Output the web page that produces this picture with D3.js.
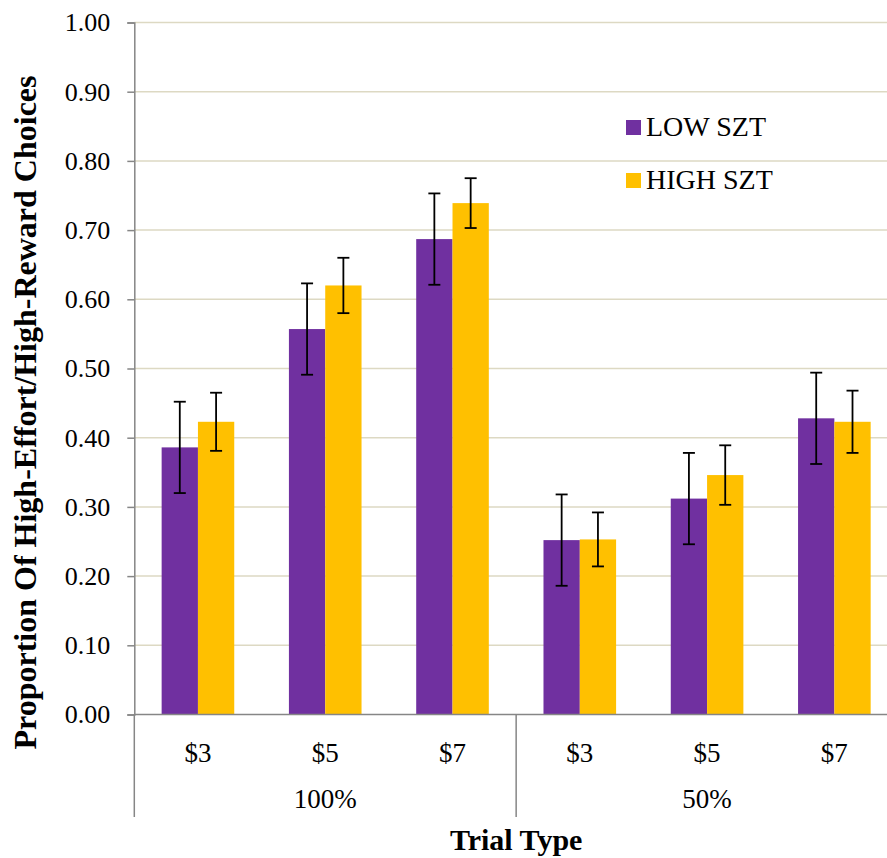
<!DOCTYPE html>
<html>
<head>
<meta charset="utf-8">
<script src="https://cdn.jsdelivr.net/npm/d3@7"></script>
<style>
  html, body { margin: 0; padding: 0; background: #fff; }
  svg { display: block; }
</style>
</head>
<body>
<div id="chart"></div>
<script>
// ---- data ----
const categories = ["$3", "$5", "$7", "$3", "$5", "$7"];
const groups = ["100%", "50%"];
const seriesNames = ["LOW SZT", "HIGH SZT"];
const lowSZT = [0.386, 0.557, 0.687, 0.252, 0.312, 0.428];
const highSZT = [0.423, 0.620, 0.739, 0.253, 0.346, 0.423];
const lowErr = [0.066, 0.066, 0.066, 0.066, 0.066, 0.066];
const highErr = [0.042, 0.040, 0.036, 0.039, 0.043, 0.045];
const yTicks = [0, 0.1, 0.2, 0.3, 0.4, 0.5, 0.6, 0.7, 0.8, 0.9, 1.0];
const colors = ["#7030A0", "#FFC000"];

const W = 887, H = 858;
const pLeft = 134.3, pRight = 898, pTop = 22.5, pBottom = 714.5;
const FONT = "'Liberation Serif', 'Times New Roman', Times, serif";

const svg = d3.select("#chart").append("svg").attr("width", W).attr("height", H);

const y = d3.scaleLinear().domain([0, 1]).range([pBottom, pTop]);
const x = d3.scaleBand().domain(d3.range(categories.length)).range([pLeft, pRight]).padding(0);
const xs = d3.scaleBand().domain([0, 1]).range([0, x.bandwidth()]).paddingInner(0).paddingOuter(0.753);

// gridlines
svg.append("g").selectAll("line").data(yTicks.filter(d => d > 0)).join("line")
  .attr("x1", pLeft).attr("x2", pRight)
  .attr("y1", d => y(d)).attr("y2", d => y(d))
  .attr("stroke", "#DDD9C3").attr("stroke-width", 1.5);

// bars
const rows = categories.map((c, i) => ({ i, vals: [lowSZT[i], highSZT[i]], errs: [lowErr[i], highErr[i]] }));
const bars = svg.append("g");
rows.forEach(r => {
  r.vals.forEach((v, s) => {
    bars.append("rect")
      .attr("x", x(r.i) + xs(s)).attr("width", xs.bandwidth())
      .attr("y", y(v)).attr("height", y(0) - y(v))
      .attr("fill", colors[s]);
  });
});

// error bars
const eb = svg.append("g").attr("stroke", "#000").attr("stroke-width", 1.8);
rows.forEach(r => {
  r.vals.forEach((v, s) => {
    const cx = x(r.i) + xs(s) + xs.bandwidth() / 2;
    const e = r.errs[s];
    eb.append("line").attr("x1", cx).attr("x2", cx).attr("y1", y(v + e)).attr("y2", y(v - e));
    eb.append("line").attr("x1", cx - 6).attr("x2", cx + 6).attr("y1", y(v + e)).attr("y2", y(v + e));
    eb.append("line").attr("x1", cx - 6).attr("x2", cx + 6).attr("y1", y(v - e)).attr("y2", y(v - e));
  });
});

// y axis
const yAxis = d3.axisLeft(y).tickValues(yTicks).tickFormat(d3.format(".2f")).tickSize(7).tickPadding(17);
const yg = svg.append("g").attr("transform", `translate(${pLeft},0)`).call(yAxis);
yg.attr("font-family", FONT).attr("font-size", 26);
yg.select(".domain").attr("stroke", "#868686").attr("stroke-width", 1.5);
yg.selectAll(".tick line").attr("stroke", "#868686").attr("stroke-width", 1.5);
yg.selectAll(".tick text").attr("font-size", 26).attr("fill", "#000")
  .attr("font-family", FONT);

// x axis (categories)
const xAxis = d3.axisBottom(x).tickFormat(i => categories[i]).tickSize(0).tickPadding(28);
const xg = svg.append("g").attr("transform", `translate(0,${pBottom})`).call(xAxis);
xg.attr("font-family", FONT).attr("font-size", 27);
xg.select(".domain").remove();
xg.selectAll(".tick text").attr("font-size", 27).attr("fill", "#000")
  .attr("font-family", FONT);

// axis line + group separators
svg.append("line").attr("x1", pLeft).attr("x2", pRight).attr("y1", pBottom).attr("y2", pBottom)
  .attr("stroke", "#868686").attr("stroke-width", 1.5);
const sepIdx = [0, 3, 6];
svg.append("g").selectAll("line").data(sepIdx).join("line")
  .attr("x1", d => d < categories.length ? x(d) : pRight)
  .attr("x2", d => d < categories.length ? x(d) : pRight)
  .attr("y1", pBottom).attr("y2", 817)
  .attr("stroke", "#868686").attr("stroke-width", 1.5);

// group labels
svg.append("g").selectAll("text").data(groups).join("text")
  .attr("x", (g, gi) => (x(gi * 3) + x(gi * 3 + 2) + x.bandwidth()) / 2)
  .attr("y", 808)
  .attr("text-anchor", "middle").attr("font-size", 27)
  .attr("font-family", FONT)
  .text(d => d);

// axis titles
svg.append("text")
  .attr("x", (pLeft + pRight) / 2).attr("y", 850)
  .attr("text-anchor", "middle").attr("font-size", 30).attr("font-weight", "bold")
  .attr("font-family", FONT)
  .text("Trial Type");

svg.append("text")
  .attr("transform", `translate(36,412.5) rotate(-90)`)
  .attr("text-anchor", "middle").attr("font-size", 32).attr("font-weight", "bold")
  .attr("font-family", FONT)
  .text("Proportion Of High-Effort/High-Reward Choices");

// legend
const lg = svg.append("g");
seriesNames.forEach((n, i) => {
  lg.append("rect").attr("x", 626).attr("y", 120 + i * 53).attr("width", 15).attr("height", 15).attr("fill", colors[i]);
  lg.append("text").attr("x", 646).attr("y", 136 + i * 53).attr("font-size", 28)
    .attr("font-family", FONT).text(n);
});
</script>
</body>
</html>
